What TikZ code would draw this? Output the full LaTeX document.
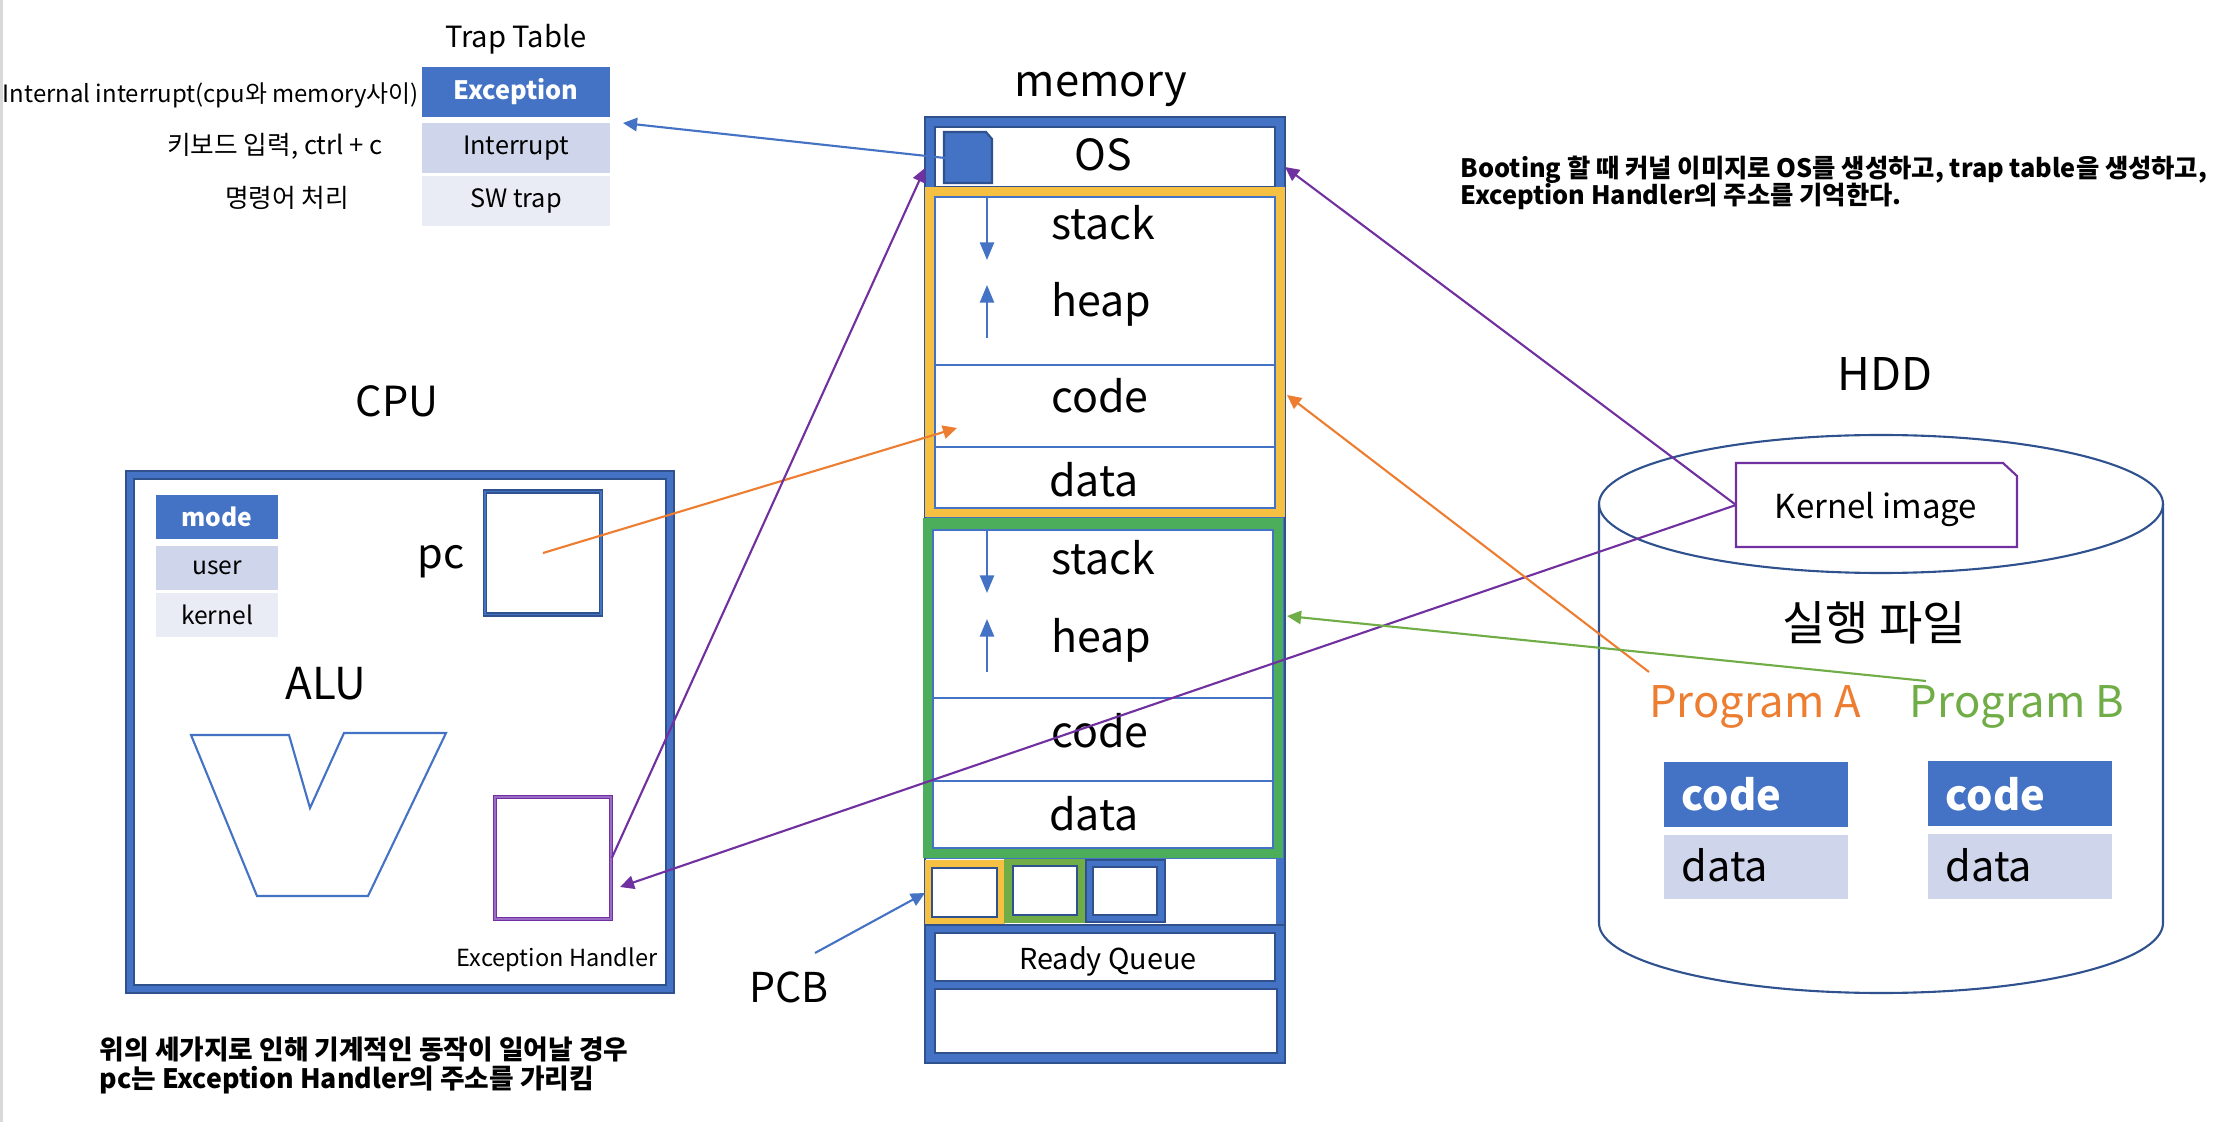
\documentclass[tikz,border=0pt]{standalone}
\usepackage{fontspec}
\setmainfont{Noto Sans CJK KR}
\usetikzlibrary{arrows.meta}

\definecolor{ppblue}{HTML}{4472C4}
\definecolor{ppdark}{HTML}{2F528F}
\definecolor{ppgold}{HTML}{F6C143}
\definecolor{ppgreen}{HTML}{4CAD5A}
\definecolor{ppolive}{HTML}{70AD47}
\definecolor{pporange}{HTML}{ED7D31}
\definecolor{pppurple}{HTML}{7030A0}
\definecolor{ppviolet}{HTML}{9A6CC8}
\definecolor{pplight}{HTML}{CFD5EA}
\definecolor{pplighter}{HTML}{E9EBF5}

\tikzset{
  txt/.style={inner sep=0, anchor=base},
  big/.style={txt, font=\fontsize{12.2}{15}\selectfont},
  cell/.style={inner sep=0, minimum width=1.87cm, minimum height=0.5cm, font=\fontsize{7.2}{9}\selectfont},
  modecell/.style={inner sep=0, minimum width=1.22cm, minimum height=0.43cm, font=\fontsize{7}{9}\selectfont},
  note/.style={inner sep=0, anchor=base west, font=\fontsize{7.2}{9}\selectfont\bfseries},
  conn/.style={line width=0.6pt, -{Triangle[length=4pt,width=3.8pt]}},
  thin/.style={line width=0.6pt},
}

\begin{document}
\begin{tikzpicture}[x=0.01cm,y=-0.01cm]
\useasboundingbox (0,0) rectangle (2234,1122);
\draw[black!15, line width=1pt] (1,0) -- (1,1122);

% trap table
\node[txt, font=\fontsize{8.3}{10}\selectfont] (trapT) at (516,48) {Trap Table};
\node[cell, fill=ppblue, text=white, font=\fontsize{7.2}{9}\selectfont\bfseries] (exc) at (516,92) {Exception};
\node[cell, fill=pplight] (intr) at (516,148) {Interrupt};
\node[cell, fill=pplighter] (swt) at (516,201) {SW trap};
\node[txt, font=\fontsize{6.8}{9}\selectfont] (lblInt) at (211,103) {Internal interrupt(cpu와 memory사이)};
\node[txt, font=\fontsize{7.3}{9}\selectfont] (lblKey) at (275,155) {키보드 입력, ctrl + c};
\node[txt, font=\fontsize{7.3}{9}\selectfont] (lblCmd) at (287,208) {명령어 처리};
\coordinate (trapIn) at (623,123);

% memory
\node[txt, font=\fontsize{12.4}{15}\selectfont] (memT) at (1101,97) {memory};
\filldraw[fill=ppblue, draw=ppdark, thin] (925,117) rectangle (1285,1063);
\filldraw[fill=white, draw=ppdark, thin] (935,127) rectangle (1275,187);
\filldraw[fill=ppblue, draw=ppdark, thin] (944,132) -- (986,132) -- (992,139) -- (992,183) -- (944,183) -- cycle;
\coordinate (osdoc) at (945,158);
\node[big] (os) at (1103,171) {OS};
\coordinate (osL) at (925,168);
\coordinate (osR) at (1285,167);

% process A
\fill[ppgold] (925,187) rectangle (1285,517);
\filldraw[fill=white, draw=ppblue, thin] (935,197) rectangle (1275,508);
\draw[ppblue, thin] (935,365) -- (1275,365) (935,447) -- (1275,447);
\draw[ppblue, thin, -{Triangle[length=5pt,width=4pt]}] (987,197) -- (987,260);
\draw[ppblue, thin, -{Triangle[length=5pt,width=4pt]}] (987,338) -- (987,285);
\node[big] (stackA) at (1103,240) {stack};
\node[big] (heapA) at (1101,317) {heap};
\node[big] (codeA) at (1100,413) {code};
\node[big] (dataA) at (1094,497) {data};
\coordinate (codeIn) at (957,428);
\coordinate (yelR) at (1287,395);

% process B
\fill[ppgreen] (923,518) rectangle (1283,858);
\filldraw[fill=white, draw=ppblue, thin] (933,530) rectangle (1273,848);
\draw[ppblue, thin] (933,698) -- (1273,698) (933,781) -- (1273,781);
\draw[ppblue, thin, -{Triangle[length=5pt,width=4pt]}] (987,530) -- (987,593);
\draw[ppblue, thin, -{Triangle[length=5pt,width=4pt]}] (987,672) -- (987,619);
\node[big] (stackB) at (1103,574) {stack};
\node[big] (heapB) at (1101,652) {heap};
\node[big] (codeB) at (1100,747) {code};
\node[big] (dataB) at (1094,830) {data};
\coordinate (grnR) at (1287,616);

% pcb row, ready queue
\fill[white] (926,859) rectangle (1276,924);
\filldraw[fill=ppgold, draw=ppgold] (926,861) rectangle (1004,923);
\filldraw[fill=white, draw=ppdark, thin] (932,868) rectangle (997,917);
\filldraw[fill=ppolive, draw=ppolive] (1005,860) rectangle (1084,922);
\filldraw[fill=white, draw=ppdark, thin] (1013,866) rectangle (1077,915);
\filldraw[fill=ppblue, draw=ppdark, thin] (1086,860) rectangle (1165,922);
\filldraw[fill=white, draw=ppdark, thin] (1093,867) rectangle (1157,915);
\coordinate (pcbL) at (925,893);
\draw[ppdark, thin] (925,925) -- (1285,925);
\filldraw[fill=white, draw=ppdark, thin] (935,933) rectangle (1275,981);
\node[inner sep=0, font=\fontsize{8.2}{10}\selectfont] (rq) at (1108,961) {Ready Queue};
\filldraw[fill=white, draw=ppdark, thin] (935,989) rectangle (1277,1053);
\node[txt, font=\fontsize{11.7}{14}\selectfont] (pcb) at (789,1002) {PCB};

% cpu
\node[txt, font=\fontsize{11.8}{14}\selectfont] (cpuT) at (397,417) {CPU};
\filldraw[fill=ppblue, draw=ppdark, thin] (126,471) rectangle (674,993);
\filldraw[fill=white, draw=ppdark, thin] (134,479) rectangle (666,985);
\node[modecell, fill=ppblue, text=white, font=\fontsize{7}{9}\selectfont\bfseries] (mode) at (217,517) {mode};
\node[modecell, fill=pplight] (user) at (217,568) {user};
\node[modecell, fill=pplighter] (kern) at (217,615) {kernel};
\node[txt, font=\fontsize{11.8}{14}\selectfont] (pcT) at (441,569) {pc};
\node[draw=ppdark, double=ppblue, double distance=0.5pt, line width=0.4pt, minimum width=1.16cm, minimum height=1.23cm, inner sep=0] (pcreg) at (543,553) {};
\node[txt, font=\fontsize{12.5}{15}\selectfont] (aluT) at (326,699) {ALU};
\draw[ppblue, thin] (191,735) -- (289,735) -- (310,808) -- (344,733) -- (446,733) -- (368,896) -- (257,896) -- cycle;
\node[draw=pppurple, double=ppviolet, double distance=0.4pt, line width=0.45pt, minimum width=1.16cm, minimum height=1.22cm, inner sep=0] (ehreg) at (553,858) {};
\coordinate (ehIn) at (620,887);
\node[txt, font=\fontsize{6.7}{9}\selectfont] (ehT) at (557,966) {Exception Handler};

% notes
\node[note] (noteA1) at (1460,178) {Booting 할 때 커널 이미지로 OS를 생성하고, trap table을 생성하고,};
\node[note] (noteA2) at (1460,205) {Exception Handler의 주소를 기억한다.};
\node[note, font=\fontsize{7.6}{9}\selectfont\bfseries] (noteB1) at (99,1059) {위의 세가지로 인해 기계적인 동작이 일어날 경우};
\node[note, font=\fontsize{7.6}{9}\selectfont\bfseries] (noteB2) at (99,1088) {pc는 Exception Handler의 주소를 가리킴};

% hdd
\node[txt, font=\fontsize{12.8}{15}\selectfont] (hddT) at (1885,391) {HDD};
\draw[ppdark, thin] (1881,504) ellipse (282 and 69);
\draw[ppdark, thin] (1599,504) -- (1599,923) arc[start angle=180, end angle=0, x radius=282, y radius=70] -- (2163,504);
\filldraw[fill=white, draw=pppurple, thin] (1736,463) -- (2003,463) -- (2017,476) -- (2017,547) -- (1736,547) -- cycle;
\node[txt, font=\fontsize{9.4}{12}\selectfont] (kimg) at (1876,519) {Kernel image};
\coordinate (kerL) at (1736,505);
\node[txt, font=\fontsize{13.4}{16}\selectfont] (exeT) at (1874,640) {실행 파일};
\node[txt, text=pporange, font=\fontsize{12.4}{15}\selectfont] (progA) at (1755,717) {Program A};
\node[txt, text=ppolive, font=\fontsize{12.4}{15}\selectfont] (progB) at (2017,717) {Program B};
\coordinate (progAL) at (1649,672);
\coordinate (progBL) at (1926,681);
\fill[ppblue] (1664,762) rectangle (1848,827);
\fill[pplight] (1664,835) rectangle (1848,899);
\fill[ppblue] (1928,761) rectangle (2112,826);
\fill[pplight] (1928,834) rectangle (2112,899);
\node[txt, anchor=base west, text=white, font=\fontsize{11.8}{14}\selectfont\bfseries] (hcodeA) at (1681,810) {code};
\node[txt, anchor=base west, font=\fontsize{11.8}{14}\selectfont] (hdataA) at (1681,881) {data};
\node[txt, anchor=base west, text=white, font=\fontsize{11.8}{14}\selectfont\bfseries] (hcodeB) at (1945,810) {code};
\node[txt, anchor=base west, font=\fontsize{11.8}{14}\selectfont] (hdataB) at (1945,881) {data};

% connectors
\draw[conn, ppblue] (osdoc) -- (trapIn);
\draw[conn, pporange] (pcreg.center) -- (codeIn);
\draw[conn, pppurple] (ehreg.east) -- (osL);
\draw[conn, pppurple] (kerL) -- (osR);
\draw[conn, pppurple] (kerL) -- (ehIn);
\draw[conn, pporange] (progAL) -- (yelR);
\draw[conn, ppolive] (progBL) -- (grnR);
\draw[conn, ppblue] (815,953) -- (pcbL);
\end{tikzpicture}
\end{document}
